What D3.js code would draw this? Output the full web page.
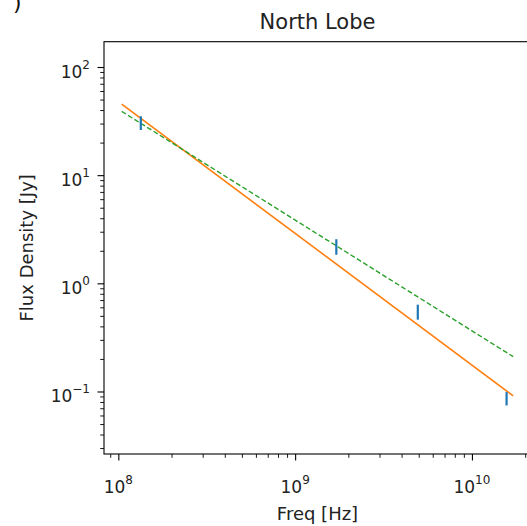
<!DOCTYPE html>
<html>
<head>
<meta charset="utf-8">
<script src="https://cdn.jsdelivr.net/npm/d3@7"></script>
<style>
  body { margin: 0; background: #fff; }
  svg { display: block; font-family: "DejaVu Sans", sans-serif; }
</style>
</head>
<body>
<div id="chart"></div>
<script>
// measured points (flux density vs frequency)
const freqs = [1.34e8, 1.71e9, 4.94e9, 1.57e10];
const flux = [30.6, 2.2, 0.548, 0.0865];
const fluxErr = [4.4, 0.36, 0.087, 0.0122];

// fitted power laws, drawn between the two end frequencies
const fitFreq = [1.045e8, 1.71e10];
const fitSolid = [45.4, 0.0912];
const fitDashed = [38.9, 0.21];

// major tick positions and their exponents
const xTickVals = [1e8, 1e9, 1e10];
const xTickExp = ["8", "9", "10"];
const yTickVals = [1e-1, 1, 10, 100];
const yTickExp = ["\u22121", "0", "1", "2"];

const width = 527;
const height = 526;
const plotL = 104, plotR = 531, plotT = 41.7, plotB = 454;

const svg = d3.select("#chart")
  .append("svg")
  .attr("width", width)
  .attr("height", height);

svg.append("rect").attr("width", width).attr("height", height).attr("fill", "#fff");

const x = d3.scaleLog()
  .domain([Math.pow(10, 7.919), Math.pow(10, 10.334)])
  .range([plotL, plotR]);

const y = d3.scaleLog()
  .domain([Math.pow(10, -1.578), Math.pow(10, 2.234)])
  .range([plotB, plotT]);

svg.append("clipPath").attr("id", "plot")
  .append("rect")
  .attr("x", plotL).attr("y", plotT)
  .attr("width", plotR - plotL).attr("height", plotB - plotT);

// minor ticks
const isMajor = (v) => Math.abs(Math.log10(v) - Math.round(Math.log10(v))) < 1e-9;

svg.append("g")
  .attr("transform", `translate(0,${plotB})`)
  .call(d3.axisBottom(x).tickValues(x.ticks().filter((v) => !isMajor(v))).tickSize(3.8).tickFormat(""))
  .call((g) => g.select(".domain").remove())
  .call((g) => g.selectAll("line").attr("stroke-width", 0.9));

svg.append("g")
  .attr("transform", `translate(${plotL},0)`)
  .call(d3.axisLeft(y).tickValues(y.ticks().filter((v) => !isMajor(v))).tickSize(3.8).tickFormat(""))
  .call((g) => g.select(".domain").remove())
  .call((g) => g.selectAll("line").attr("stroke-width", 0.9));

// major ticks
svg.append("g")
  .attr("transform", `translate(0,${plotB})`)
  .call(d3.axisBottom(x).tickValues(xTickVals).tickSize(6.5).tickFormat(""))
  .call((g) => g.select(".domain").remove())
  .call((g) => g.selectAll("line").attr("stroke-width", 1.1));

svg.append("g")
  .attr("transform", `translate(${plotL},0)`)
  .call(d3.axisLeft(y).tickValues(yTickVals).tickSize(6.5).tickFormat(""))
  .call((g) => g.select(".domain").remove())
  .call((g) => g.selectAll("line").attr("stroke-width", 1.1));

// tick labels with superscripts
xTickVals.forEach((v, i) => {
  const t = svg.append("text")
    .attr("x", x(v))
    .attr("y", 493)
    .attr("text-anchor", "middle")
    .attr("font-size", 17)
    .attr("fill", "#222");
  t.append("tspan").text("10");
  t.append("tspan").attr("font-size", 12).attr("dy", -9).text(xTickExp[i]);
});

yTickVals.forEach((v, i) => {
  const t = svg.append("text")
    .attr("x", 90)
    .attr("y", y(v) + 11)
    .attr("text-anchor", "end")
    .attr("font-size", 17)
    .attr("fill", "#222");
  t.append("tspan").text("10");
  t.append("tspan").attr("font-size", 12).attr("dy", -9).text(yTickExp[i]);
});

// fit lines
const plot = svg.append("g").attr("clip-path", "url(#plot)");
const line = d3.line().x((d) => x(d[0])).y((d) => y(d[1]));

plot.append("path")
  .datum(fitFreq.map((f, i) => [f, fitSolid[i]]))
  .attr("d", line)
  .attr("fill", "none")
  .attr("stroke", "#ff7f0e")
  .attr("stroke-width", 1.6);

plot.append("path")
  .datum(fitFreq.map((f, i) => [f, fitDashed[i]]))
  .attr("d", line)
  .attr("fill", "none")
  .attr("stroke", "#2ca02c")
  .attr("stroke-width", 1.4)
  .attr("stroke-dasharray", "5,2.5");

// error bars
plot.selectAll(".err")
  .data(freqs)
  .join("line")
  .attr("class", "err")
  .attr("x1", (d) => x(d))
  .attr("x2", (d) => x(d))
  .attr("y1", (d, i) => y(flux[i] + fluxErr[i]))
  .attr("y2", (d, i) => y(flux[i] - fluxErr[i]))
  .attr("stroke", "#1f77b4")
  .attr("stroke-width", 2.2);

// spines
svg.append("rect")
  .attr("x", plotL).attr("y", plotT)
  .attr("width", plotR - plotL).attr("height", plotB - plotT)
  .attr("fill", "none")
  .attr("stroke", "#000")
  .attr("stroke-width", 1.1);

// title and axis labels
svg.append("text")
  .attr("x", (plotL + plotR) / 2)
  .attr("y", 29)
  .attr("text-anchor", "middle")
  .attr("font-size", 21)
  .attr("fill", "#222")
  .text("North Lobe");

svg.append("text")
  .attr("x", (plotL + plotR) / 2)
  .attr("y", 520)
  .attr("text-anchor", "middle")
  .attr("font-size", 18)
  .attr("fill", "#222")
  .text("Freq [Hz]");

svg.append("text")
  .attr("transform", `translate(33,${(plotT + plotB) / 2}) rotate(-90)`)
  .attr("text-anchor", "middle")
  .attr("font-size", 18)
  .attr("fill", "#222")
  .text("Flux Density [Jy]");

// leftover of the neighbouring panel label
svg.append("text")
  .attr("x", 13)
  .attr("y", 10)
  .attr("font-size", 22)
  .attr("fill", "#111")
  .text(")");
</script>
</body>
</html>
